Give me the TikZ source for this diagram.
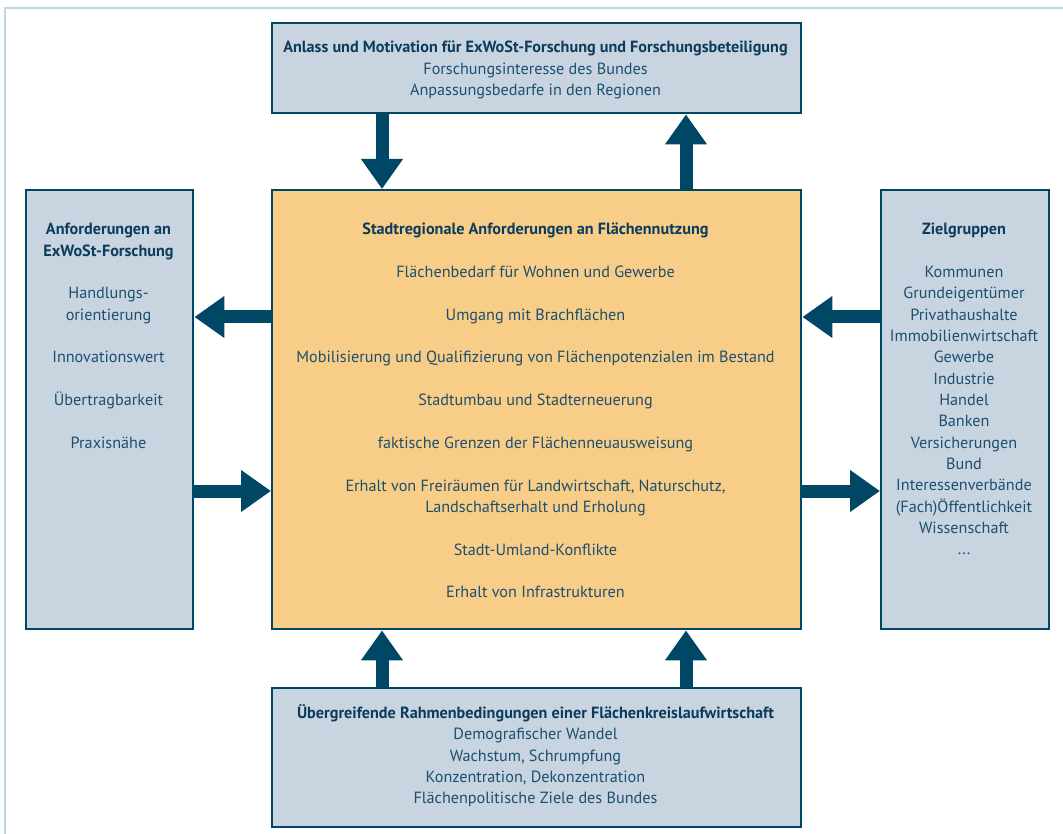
\documentclass[tikz,border=0pt]{standalone}
\usepackage{fontspec}
\setmainfont{PT Sans}
\usetikzlibrary{arrows.meta}
\definecolor{bdr}{HTML}{004766}
\definecolor{lightbox}{HTML}{C8D4E0}
\definecolor{orangebox}{HTML}{F8CD88}
\definecolor{frameline}{HTML}{BDD7E3}
\definecolor{txt}{HTML}{1D4F6E}
\definecolor{ttl}{HTML}{0B3C5D}
\newcommand{\bs}{21.35pt}
\tikzset{
  box/.style={draw=bdr, line width=2.4pt, fill=lightbox, rectangle, inner sep=0pt, anchor=north west},
  obox/.style={box, fill=orangebox},
  txtnode/.style={text=txt, align=center, inner sep=0pt, anchor=north, font=\fontsize{16.2}{\bs}\selectfont},
  bigarrow/.style={draw=bdr, line width=13pt, -{Triangle[width=40pt,length=30pt]}},
}
\newcommand{\ttlf}[1]{{\bfseries\color{ttl}#1}}
\begin{document}
\begin{tikzpicture}[x=1pt,y=-1pt]
\useasboundingbox (0,0) rectangle (1063,834);
\fill[white] (0,0) rectangle (1063,834);
\draw[frameline, line width=1.6pt] (5,834) -- (5,8) -- (1063,8);

\node[box, minimum width=529pt, minimum height=90pt] (top) at (271,22) {};
\node[box, minimum width=167pt, minimum height=439pt] (left) at (25,189) {};
\node[obox, minimum width=529pt, minimum height=439pt] (mid) at (271,189) {};
\node[box, minimum width=168pt, minimum height=439pt] (right) at (880,189) {};
\node[box, minimum width=529pt, minimum height=139pt] (bot) at (271,687) {};

\coordinate (xl) at (382,0);
\coordinate (xr) at (686,0);
\coordinate (yu) at (0,317);
\coordinate (yd) at (0,491);

\node[txtnode] (toptext) at (535.5,41) {\ttlf{Anlass und Motivation für ExWoSt-Forschung und Forschungsbeteiligung}\\
Forschungsinteresse des Bundes\\
Anpassungsbedarfe in den Regionen};

\node[txtnode] (midtext) at (535.5,223) {\ttlf{Stadtregionale Anforderungen an Flächennutzung}\\[\bs]
Flächenbedarf für Wohnen und Gewerbe\\[\bs]
Umgang mit Brachflächen\\[\bs]
Mobilisierung und Qualifizierung von Flächenpotenzialen im Bestand\\[\bs]
Stadtumbau und Stadterneuerung\\[\bs]
faktische Grenzen der Flächenneuausweisung\\[\bs]
Erhalt von Freiräumen für Landwirtschaft, Naturschutz,\\
Landschaftserhalt und Erholung\\[\bs]
Stadt-Umland-Konflikte\\[\bs]
Erhalt von Infrastrukturen};

\node[txtnode] (lefttext) at (108.5,223) {\ttlf{Anforderungen an}\\
\ttlf{ExWoSt-Forschung}\\[\bs]
Handlungs-\\
orientierung\\[\bs]
Innovationswert\\[\bs]
Übertragbarkeit\\[\bs]
Praxisnähe};

\node[txtnode] (righttext) at (964,223) {\ttlf{Zielgruppen}\\[\bs]
Kommunen\\
Grundeigentümer\\
Privathaushalte\\
Immobilienwirtschaft\\
Gewerbe\\
Industrie\\
Handel\\
Banken\\
Versicherungen\\
Bund\\
Interessenverbände\\
(Fach)Öffentlichkeit\\
Wissenschaft\\
...};

\node[txtnode] (bottext) at (535.5,704.5) {\ttlf{Übergreifende Rahmenbedingungen einer Flächenkreislaufwirtschaft}\\
Demografischer Wandel\\
Wachstum, Schrumpfung\\
Konzentration, Dekonzentration\\
Flächenpolitische Ziele des Bundes};

\draw[bigarrow] (top.south -| xl) -- (mid.north -| xl);
\draw[bigarrow] (mid.north -| xr) -- (top.south -| xr);
\draw[bigarrow] (mid.west |- yu) -- (left.east |- yu);
\draw[bigarrow] (left.east |- yd) -- (mid.west |- yd);
\draw[bigarrow] (right.west |- yu) -- (mid.east |- yu);
\draw[bigarrow] (mid.east |- yd) -- (right.west |- yd);
\draw[bigarrow] (bot.north -| xl) -- (mid.south -| xl);
\draw[bigarrow] (bot.north -| xr) -- (mid.south -| xr);
\end{tikzpicture}
\end{document}
